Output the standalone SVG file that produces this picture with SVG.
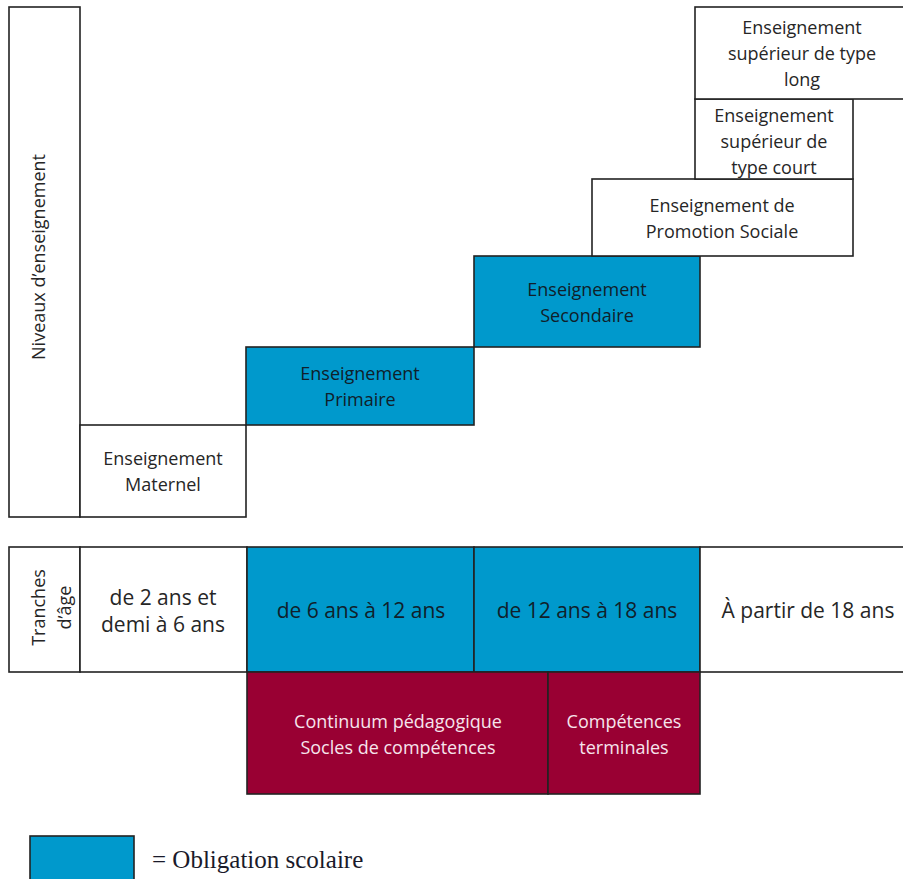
<svg xmlns="http://www.w3.org/2000/svg" width="903" height="879" viewBox="0 0 903 879">
<style>
.w{fill:#ffffff;stroke:#222222;stroke-width:1.6}
.b{fill:#0099cc;stroke:#222222;stroke-width:1.6}
.m{fill:#990033;stroke:#222222;stroke-width:1.6}
.ln{stroke:#222222;stroke-width:1.6;fill:none}
text{font-family:"Open Sans","Noto Sans",sans-serif;font-size:18px;text-anchor:middle;fill:#262626}
.tb{fill:#10202a}
.tm{fill:#f6e4ec}
.big{font-size:21px}
.leg{font-family:"Liberation Serif","Times New Roman",serif;font-size:25px;text-anchor:start;fill:#1a1a2a}
</style>
<rect width="903" height="879" fill="#ffffff"/>

<g id="niveaux">
<rect class="w" x="9" y="7" width="71" height="510"/>
<text transform="translate(45,257) rotate(-90)">Niveaux d’enseignement</text>
</g>

<g id="maternel">
<rect class="w" x="80" y="425" width="166" height="92"/>
<text x="163" y="465">Enseignement</text>
<text x="163" y="491">Maternel</text>
</g>

<g id="primaire">
<rect class="b" x="246" y="347" width="228" height="78"/>
<text class="tb" x="360" y="380">Enseignement</text>
<text class="tb" x="360" y="406">Primaire</text>
</g>

<g id="secondaire">
<rect class="b" x="474" y="256" width="226" height="91"/>
<text class="tb" x="587" y="296">Enseignement</text>
<text class="tb" x="587" y="322">Secondaire</text>
</g>

<g id="promotion">
<rect class="w" x="592" y="179" width="261" height="77"/>
<text x="722" y="212">Enseignement de</text>
<text x="722" y="238">Promotion Sociale</text>
</g>

<g id="sup-court">
<rect class="w" x="695" y="99" width="158" height="80"/>
<text x="774" y="122">Enseignement</text>
<text x="774" y="148">supérieur de</text>
<text x="774" y="174">type court</text>
</g>

<g id="sup-long">
<rect class="w" x="695" y="7" width="210" height="92"/>
<text x="802" y="34">Enseignement</text>
<text x="802" y="60">supérieur de type</text>
<text x="802" y="86">long</text>
</g>

<g id="tranches">
<rect class="w" x="9" y="547" width="71" height="125"/>
<text transform="translate(45,607.5) rotate(-90)">Tranches</text>
<text transform="translate(71,607.5) rotate(-90)">d’âge</text>
</g>

<g id="age-2-6">
<rect class="w" x="80" y="547" width="167" height="125"/>
<text class="big" x="163" y="605">de 2 ans et</text>
<text class="big" x="163" y="632">demi à 6 ans</text>
</g>

<g id="age-6-12">
<rect class="b" x="247" y="547" width="227" height="125"/>
<text class="big tb" x="361" y="618">de 6 ans à 12 ans</text>
</g>

<g id="age-12-18">
<rect class="b" x="474" y="547" width="226" height="125"/>
<text class="big tb" x="587" y="618">de 12 ans à 18 ans</text>
</g>

<g id="age-18">
<rect class="w" x="700" y="547" width="205" height="125"/>
<text class="big" x="808" y="618">À partir de 18 ans</text>
</g>

<g id="socles">
<rect class="m" x="247" y="672" width="301" height="122"/>
<text class="tm" x="398" y="728">Continuum pédagogique</text>
<text class="tm" x="398" y="754">Socles de compétences</text>
</g>

<g id="terminales">
<rect class="m" x="548" y="672" width="152" height="122"/>
<text class="tm" x="624" y="728">Compétences</text>
<text class="tm" x="624" y="754">terminales</text>
</g>

<g id="legende">
<rect class="b" x="30" y="836" width="104" height="60"/>
<text class="leg" x="152" y="868">= Obligation scolaire</text>
</g>

<g id="connectors"></g>
</svg>
